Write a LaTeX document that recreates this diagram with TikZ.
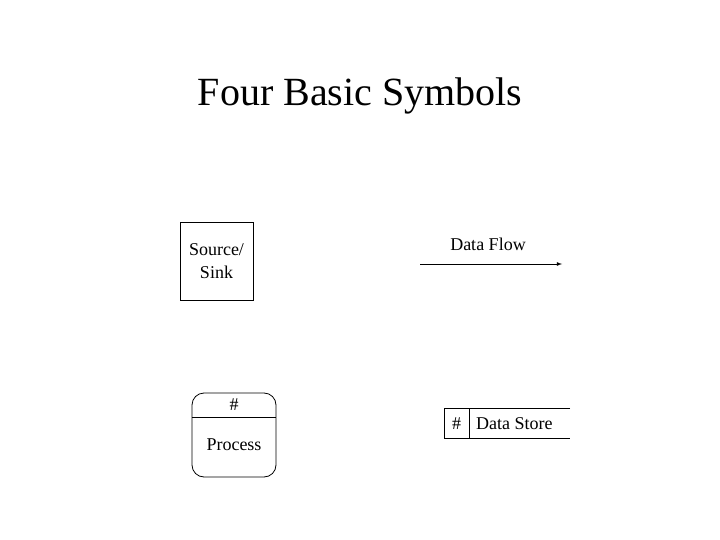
\documentclass[tikz,border=0pt]{standalone}
\usepackage{fontspec}
\setmainfont{Liberation Serif}
\begin{document}
\begin{tikzpicture}[x=1pt,y=-1pt,
  lbl/.style={inner sep=0pt,font=\fontsize{18}{21}\selectfont},
  ln/.style={line width=0.8pt}]
\useasboundingbox (0,0) rectangle (720,540);
\node[inner sep=0pt,font=\fontsize{40}{46}\selectfont] (title) at (360,96) {Four Basic Symbols};
% source/sink
\node[draw,ln,minimum width=73pt,minimum height=78pt,inner sep=0pt,align=center,font=\fontsize{18}{23}\selectfont] (src) at (216.5,261) {Source/\\Sink};
% data flow
\node[lbl] (dflabel) at (488,244) {Data Flow};
\coordinate (dfa) at (420,264);
\coordinate (dfb) at (562,264);
\draw[ln,-latex] (dfa) -- (dfb);
% process
\node[draw,ln,rounded corners=12pt,minimum width=84pt,minimum height=84pt,inner sep=0pt] (proc) at (234,435) {};
\coordinate (pl) at (192,417);
\coordinate (pr) at (276,417);
\draw[ln] (pl) -- (pr);
\node[lbl] (hash1) at (234,405) {\#};
\node[lbl] (ptext) at (234,445) {Process};
% data store
\coordinate (s1) at (570,408);
\coordinate (s2) at (444,408);
\coordinate (s3) at (444,438);
\coordinate (s4) at (570,438);
\coordinate (d1) at (469,408);
\coordinate (d2) at (469,438);
\draw[ln] (s1) -- (s2) -- (s3) -- (s4);
\draw[ln] (d1) -- (d2);
\node[lbl] (hash2) at (456.5,424) {\#};
\node[lbl,anchor=west] (dstext) at (476,424) {Data Store};
\end{tikzpicture}
\end{document}
